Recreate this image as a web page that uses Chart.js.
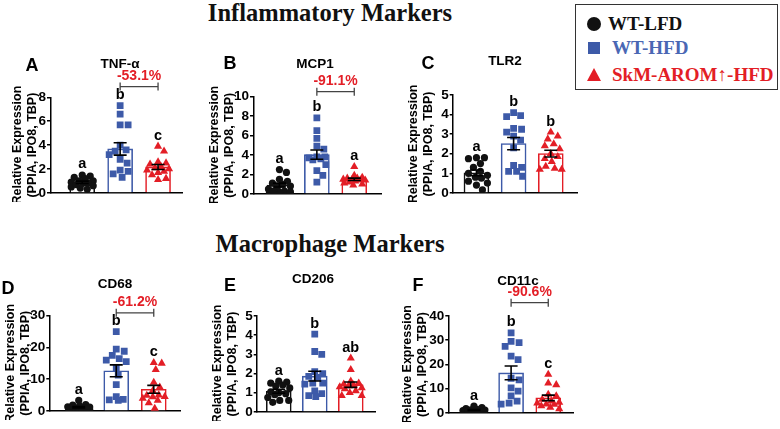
<!DOCTYPE html>
<html>
<head>
<meta charset="utf-8">
<script src="https://cdn.jsdelivr.net/npm/chart.js@4.4.1/dist/chart.umd.min.js"></script>
<style>
body { margin: 0; background: #fff; }
#fig { position: relative; width: 780px; height: 429px; overflow: hidden; font-family: 'Liberation Sans', Arial, sans-serif; }
#fig canvas { position: absolute; }
.t { position: absolute; transform: translate(-50%, -50%); font-weight: bold; white-space: nowrap; color: #000; }
.head { position: absolute; left: 130px; width: 400px; text-align: center; font: bold 24.5px/24px 'Liberation Serif', 'Times New Roman', serif; color: #111; }
#legend { position: absolute; left: 575px; top: 4px; width: 201px; height: 84px; border: 1.5px solid #333; }
.lg { position: absolute; font: bold 19px/20px 'Liberation Serif', 'Times New Roman', serif; white-space: nowrap; }
</style>
</head>
<body>
<div id="fig">
  <div class="head" style="top:1px">Inflammatory Markers</div>
  <div class="head" style="top:232px">Macrophage Markers</div>
  <div id="legend"></div>
</div>
<script>
// groups and genes
const groups = ['WT-LFD', 'WT-HFD', 'SkM-AROM\u2191-HFD'];
const genes = ['TNF-\u03b1', 'MCP1', 'TLR2', 'CD68', 'CD206', 'CD11c'];

// relative expression per animal, one row per gene (A..F)
const wtLfd = [
  [1.5, 1.4, 1.3, 1.2, 1.0, 1.0, 0.9, 0.8, 0.8, 0.6, 0.5, 0.4, 0.3, 0.7],
  [2.5, 2.2, 1.5, 1.3, 1.1, 1.0, 0.8, 0.7, 0.5, 0.3, 0.2, 0.15, 0.15, 0.3],
  [1.8, 1.8, 1.75, 1.5, 1.3, 1.1, 1.0, 0.9, 0.8, 0.75, 0.6, 0.5, 0.4, 0.15],
  [3.3, 2.0, 1.8, 1.5, 1.3, 1.2, 1.0, 0.9, 0.8, 0.6, 0.5, 0.4, 0.3, 0.7],
  [1.6, 1.55, 1.5, 1.4, 1.35, 1.25, 1.05, 1.0, 0.95, 0.9, 0.75, 0.6, 0.6, 0.5],
  [2.8, 2.2, 1.8, 1.5, 1.3, 1.2, 1.0, 0.9, 0.8, 0.7, 0.6, 0.5, 0.4, 0.8]
];
const wtHfd = [
  [7.3, 6.6, 5.7, 5.7, 4.0, 3.6, 3.5, 3.2, 2.8, 2.5, 1.8, 1.6, 1.3, 1.9],
  [7.8, 6.5, 5.7, 4.9, 4.6, 3.8, 3.8, 3.7, 3.5, 3.0, 2.4, 1.9, 1.2, 3.6],
  [4.1, 3.95, 3.9, 3.3, 3.25, 2.9, 2.7, 2.3, 1.4, 1.3, 1.1, 1.1, 0.85, 3.1],
  [25, 19.5, 18.8, 17.5, 16.5, 16, 15.5, 13.5, 11.3, 8.3, 3.6, 3.5, 3.3, 4.5],
  [4.05, 3.15, 3.0, 2.1, 2.0, 1.85, 1.8, 1.5, 1.45, 1.1, 0.95, 0.85, 0.8, 1.5],
  [33, 29.5, 29, 27.5, 23.4, 22, 14.3, 13.6, 10.3, 9, 7, 4.9, 3.6, 4]
];
const skmHfd = [
  [3.9, 3.5, 2.6, 2.5, 2.4, 2.2, 2.1, 2.0, 1.8, 1.7, 1.5, 1.2, 1.1, 1.9],
  [2.8, 1.9, 1.7, 1.6, 1.5, 1.5, 1.4, 1.4, 1.3, 1.2, 1.1, 1.0, 0.9, 1.6],
  [3.1, 2.9, 2.75, 2.5, 2.4, 2.25, 2.0, 1.85, 1.75, 1.6, 1.35, 1.2, 1.2, 1.25],
  [15.2, 15.0, 13.0, 9.0, 7.5, 6.4, 5.0, 4.5, 4.9, 4.4, 3.9, 3.3, 0.8, 2.5],
  [2.8, 2.2, 1.6, 1.5, 1.45, 1.35, 1.3, 1.25, 1.2, 1.1, 1.0, 0.85, 0.85, 1.4],
  [15.9, 12.3, 11.6, 7.6, 7.0, 5.6, 4.9, 4.3, 3.6, 2.9, 2.3, 1.6, 4.0, 3.5]
];

// axes and annotations
const axisMax = [8, 10, 5, 30, 5, 40];
const axisStep = [2, 2, 1, 10, 1, 10];
const sigLetters = [['a', 'b', 'c'], ['a', 'b', 'a'], ['a', 'b', 'b'], ['a', 'b', 'c'], ['a', 'b', 'ab'], ['a', 'b', 'c']];
const changeText = ['-53.1%', '-91.1%', null, '-61.2%', null, '-90.6%'];
const bracketAt = [8.9, 10.5, null, 30.9, null, 45.5];

const colors = ['#111111', '#3d5aa8', '#e31e26'];
const shapes = ['circle', 'rect', 'triangle'];
const radii = [3.6, 4.8, 4.7];

// page layout of each panel (px)
const layout = [
  {panel: 'A', lx: 32, ly: 65, tx: 120, ty: 63, lab: 17, axis: 50, c0: 81.8, c2: 157.8, right: 182, top: 97.3, zero: 196, cTop: 50},
  {panel: 'B', lx: 230, ly: 63, tx: 315, ty: 63, lab: 214, axis: 253, c0: 279, c2: 354, right: 381, top: 96.5, zero: 197.3, cTop: 50},
  {panel: 'C', lx: 428, ly: 63, tx: 505, ty: 60, lab: 413, axis: 452.7, c0: 476, c2: 550.5, right: 577, top: 95, zero: 195.7, cTop: 50},
  {panel: 'D', lx: 8, ly: 288, tx: 115, ty: 283, lab: 10, axis: 49.3, c0: 78.3, c2: 153.5, right: 180, top: 315.7, zero: 414.3, cTop: 280},
  {panel: 'E', lx: 230, ly: 285, tx: 313, ty: 278, lab: 217, axis: 256.7, c0: 278.3, c2: 350.5, right: 375, top: 316, zero: 415.3, cTop: 280},
  {panel: 'F', lx: 418, ly: 285, tx: 518, ty: 280, lab: 407, axis: 448.3, c0: 473.5, c2: 548, right: 573, top: 316, zero: 415.7, cTop: 270}
];

const mean = a => a.reduce((s, v) => s + v, 0) / a.length;
const sem = a => {
  const m = mean(a);
  const sd = Math.sqrt(a.reduce((s, v) => s + (v - m) * (v - m), 0) / (a.length - 1));
  return sd / Math.sqrt(a.length);
};

// simple beeswarm: spread points sideways so markers don't sit on top of each other
function swarm(vals, pxY, pxX) {
  const d = 7.5, lim = 11;
  const placed = [];
  const off = new Array(vals.length).fill(0);
  const order = vals.map((v, i) => i).sort((a, b) => vals[b] - vals[a]);
  const cands = [0];
  for (let j = 1; j <= lim; j++) cands.push(j, -j);
  for (const i of order) {
    const y = vals[i] * pxY;
    let best = 0, bestScore = -1;
    for (const c of cands) {
      let score = Infinity;
      for (const p of placed) score = Math.min(score, Math.hypot(p.x - c, p.y - y));
      if (score >= d) { best = c; bestScore = score; break; }
      if (score > bestScore) { bestScore = score; best = c; }
    }
    placed.push({x: best, y});
    off[i] = best / pxX;
  }
  return off;
}

const marks = {
  id: 'marks',
  afterDatasetsDraw(chart, args, opts) {
    const k = opts.k;
    const {ctx} = chart;
    const x = chart.scales.x, y = chart.scales.y;
    const sets = [wtLfd[k], wtHfd[k], skmHfd[k]];
    ctx.save();
    sets.forEach((vals, g) => {
      const m = mean(vals), e = sem(vals);
      const px = x.getPixelForValue(g);
      const y1 = y.getPixelForValue(m + e), y2 = y.getPixelForValue(m - e);
      ctx.strokeStyle = '#000';
      ctx.lineWidth = 1.6;
      ctx.beginPath();
      ctx.moveTo(px, y1); ctx.lineTo(px, y2);
      ctx.moveTo(px - 6.5, y1); ctx.lineTo(px + 6.5, y1);
      ctx.moveTo(px - 6.5, y2); ctx.lineTo(px + 6.5, y2);
      ctx.stroke();
      ctx.fillStyle = '#000';
      ctx.font = 'bold 14.5px "Liberation Sans", Arial, sans-serif';
      ctx.textAlign = 'center';
      ctx.textBaseline = 'middle';
      ctx.fillText(sigLetters[k][g], px, y.getPixelForValue(Math.max(...vals)) - 10.5);
    });
    if (bracketAt[k] !== null) {
      const bx1 = x.getPixelForValue(1), bx2 = x.getPixelForValue(2);
      const by = y.getPixelForValue(bracketAt[k]);
      ctx.strokeStyle = '#444';
      ctx.lineWidth = 1.3;
      ctx.beginPath();
      ctx.moveTo(bx1, by); ctx.lineTo(bx2, by);
      ctx.moveTo(bx1, by - 4); ctx.lineTo(bx1, by + 4);
      ctx.moveTo(bx2, by - 4); ctx.lineTo(bx2, by + 4);
      ctx.stroke();
      ctx.fillStyle = '#e31e26';
      ctx.font = 'bold 14px "Liberation Sans", Arial, sans-serif';
      ctx.textAlign = 'center';
      ctx.textBaseline = 'middle';
      ctx.fillText(changeText[k], (bx1 + bx2) / 2, by - 10.5);
    }
    ctx.restore();
  }
};

const fig = document.getElementById('fig');

layout.forEach((L, k) => {
  const left = L.lab - 7.5;
  const yW = L.axis - left;
  const s = (L.c2 - L.c0) / 2;
  const xMin = -(L.c0 - L.axis) / s;
  const xMax = 2 + (L.right - L.c2) / s;
  const pxY = (L.zero - L.top) / axisMax[k];

  const cv = document.createElement('canvas');
  cv.width = Math.round(L.right - left + 4);
  cv.height = Math.round(L.zero - L.cTop + 6);
  cv.style.left = left + 'px';
  cv.style.top = L.cTop + 'px';
  fig.appendChild(cv);

  const sets = [wtLfd[k], wtHfd[k], skmHfd[k]];
  const scatter = sets.map((vals, g) => {
    const off = swarm(vals, pxY, s);
    return {
      type: 'scatter',
      label: groups[g],
      data: vals.map((v, i) => ({x: g + off[i], y: v})),
      pointStyle: shapes[g],
      pointRadius: radii[g],
      backgroundColor: colors[g],
      borderWidth: 0,
      order: 1
    };
  });

  new Chart(cv, {
    type: 'bar',
    data: {
      datasets: [...scatter, {
        type: 'bar',
        label: 'mean',
        data: sets.map((vals, g) => ({x: g, y: mean(vals)})),
        backgroundColor: '#fff',
        borderColor: colors,
        borderWidth: 1.6,
        barThickness: 25,
        order: 2
      }]
    },
    options: {
      responsive: false,
      animation: false,
      events: [],
      layout: {padding: {top: L.top - L.cTop, right: cv.width - (L.right - left), bottom: cv.height - (L.zero - L.cTop) - 2, left: 0}},
      plugins: {legend: {display: false}, tooltip: {enabled: false}, marks: {k}},
      scales: {
        x: {
          type: 'linear', min: xMin, max: xMax, offset: false,
          ticks: {display: false},
          grid: {display: false},
          border: {color: '#000', width: 1.5},
          afterFit: sc => { sc.height = 2; }
        },
        y: {
          min: 0, max: axisMax[k],
          ticks: {stepSize: axisStep[k], color: '#000', padding: 1, font: {family: 'Liberation Sans', size: 13.5, weight: 'bold'}},
          grid: {drawOnChartArea: false, tickLength: 3.5, color: '#000', lineWidth: 1.5},
          border: {color: '#000', width: 1.5},
          title: {
            display: true,
            text: ['Relative Expression', '(PPIA, IPO8, TBP)'],
            color: '#000',
            padding: 0,
            font: {family: 'Liberation Sans', size: 12.5, weight: 'bold', lineHeight: 1.2}
          },
          afterFit: sc => { sc.width = yW; }
        }
      }
    },
    plugins: [marks]
  });

  const pl = document.createElement('div');
  pl.className = 't';
  pl.style.cssText = `left:${L.lx}px;top:${L.ly}px;font-size:18px;`;
  pl.textContent = L.panel;
  fig.appendChild(pl);

  const tt = document.createElement('div');
  tt.className = 't';
  tt.style.cssText = `left:${L.tx}px;top:${L.ty}px;font-size:13.5px;`;
  tt.textContent = genes[k];
  fig.appendChild(tt);
});

// legend
const legend = document.getElementById('legend');
const legendRows = [
  {y: 18.5, mark: 'width:14px;height:14px;border-radius:50%;background:' + colors[0] + ';left:11px;top:11.5px;', tx: 32},
  {y: 43, mark: 'width:12px;height:12px;background:' + colors[1] + ';left:12px;top:37px;', tx: 36},
  {y: 70, mark: 'width:0;height:0;border-left:7.5px solid transparent;border-right:7.5px solid transparent;border-bottom:13px solid ' + colors[2] + ';left:11px;top:63px;', tx: 36}
];
legendRows.forEach((r, g) => {
  const m = document.createElement('div');
  m.style.cssText = 'position:absolute;' + r.mark;
  legend.appendChild(m);
  const t = document.createElement('div');
  t.className = 'lg';
  t.style.cssText = `left:${r.tx}px;top:${r.y - 10}px;color:${g === 1 ? '#4a67b4' : colors[g]};`;
  t.textContent = groups[g];
  legend.appendChild(t);
});
</script>
</body>
</html>
